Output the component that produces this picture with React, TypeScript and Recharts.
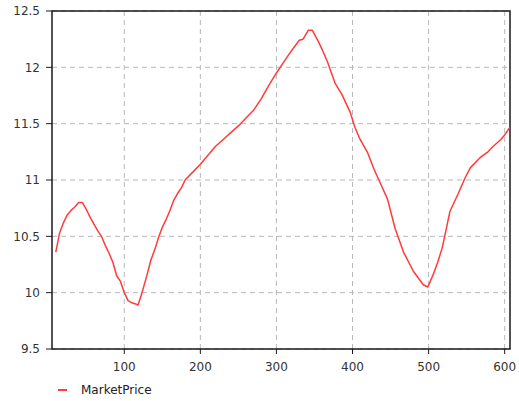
import {
  CartesianGrid,
  Legend,
  Line,
  LineChart,
  ReferenceArea,
  XAxis,
  YAxis,
} from "recharts";

// sampled market price over time
const steps = [
  10, 15, 20, 25, 30, 35, 40, 45, 50, 55, 60, 65, 70, 75, 80, 85, 90, 95, 100,
  105, 110, 115, 118, 122, 125, 130, 135, 140, 145, 150, 155, 160, 165, 170,
  175, 180, 190, 200, 210, 220, 230, 240, 250, 260, 270, 280, 290, 300, 310,
  320, 330, 335, 342, 347, 355, 360, 367, 377, 386, 397, 403, 410, 420, 428,
  436, 446, 456, 467, 480, 493, 499, 506, 512, 518, 528, 539, 548, 555, 568,
  578, 585, 595, 600, 607,
];
const prices = [
  10.36, 10.53, 10.62, 10.69, 10.73, 10.76, 10.8, 10.8, 10.74, 10.67, 10.61,
  10.55, 10.5, 10.42, 10.35, 10.27, 10.15, 10.1, 10.0, 9.93, 9.91, 9.9, 9.89,
  9.97, 10.04, 10.16, 10.29, 10.38, 10.49, 10.58, 10.65, 10.73, 10.82, 10.88,
  10.93, 11.0, 11.07, 11.14, 11.22, 11.3, 11.36, 11.42, 11.48, 11.55, 11.62,
  11.72, 11.84, 11.95, 12.05, 12.15, 12.24, 12.25, 12.33, 12.33, 12.23, 12.16,
  12.05, 11.86, 11.76, 11.6, 11.47, 11.36, 11.24, 11.1, 10.98, 10.83, 10.57,
  10.36, 10.19, 10.07, 10.05, 10.16, 10.27, 10.4, 10.72, 10.88, 11.02, 11.11,
  11.2, 11.25, 11.3, 11.36, 11.4, 11.47,
];
const xTicks = [100, 200, 300, 400, 500, 600];
const yTicks = [9.5, 10, 10.5, 11, 11.5, 12, 12.5];
const xDomain = [5, 607];
const yDomain = [9.5, 12.5];

const data = steps.map((t, i) => ({ t, price: prices[i] }));

const FONT = "'DejaVu Sans', sans-serif";
const LINE = "#ff3b3b";
const AXIS = "#1a1a1a";
const LABEL = "#333";

// tick mark + label, drawn from the axis position (tickSize/tickMargin are 0)
function YTick({ x, y, payload }: any) {
  return (
    <g>
      <line x1={x - 6} x2={x} y1={y} y2={y} stroke={AXIS} />
      <text
        x={x - 12}
        y={y}
        dy="0.36em"
        textAnchor="end"
        fill={LABEL}
        fontSize={12}
        fontFamily={FONT}
      >
        {payload.value}
      </text>
    </g>
  );
}

function XTick({ x, y, payload }: any) {
  return (
    <g>
      <line x1={x} x2={x} y1={y} y2={y + 5} stroke={AXIS} />
      <text
        x={x}
        y={y + 13}
        dy="0.71em"
        textAnchor="middle"
        fill={LABEL}
        fontSize={12}
        fontFamily={FONT}
      >
        {payload.value}
      </text>
    </g>
  );
}

function PriceLegend() {
  return (
    <div
      style={{
        height: 22,
        display: "flex",
        alignItems: "center",
        paddingLeft: 58,
        fontFamily: FONT,
        fontSize: 12,
        color: "#222",
      }}
    >
      <span style={{ width: 9, height: 1.5, background: LINE, marginRight: 14 }} />
      MarketPrice
    </div>
  );
}

export default function App() {
  return (
    <div style={{ position: "absolute", left: 0, top: 0, background: "#fff" }}>
      <LineChart
        width={519}
        height={401}
        data={data}
        margin={{ top: 11, right: 9, bottom: 0, left: 0 }}
      >
        <CartesianGrid
          stroke="#b8b8b8"
          strokeDasharray="5 4"
          verticalValues={xTicks}
          horizontalValues={yTicks}
        />
        <XAxis
          dataKey="t"
          type="number"
          domain={xDomain}
          ticks={xTicks}
          height={30}
          tickSize={0}
          tickMargin={0}
          axisLine={false}
          tickLine={false}
          tick={<XTick />}
          allowDataOverflow
        />
        <YAxis
          type="number"
          domain={yDomain}
          ticks={yTicks}
          width={52}
          tickSize={0}
          tickMargin={0}
          axisLine={false}
          tickLine={false}
          tick={<YTick />}
          allowDataOverflow
        />
        <Legend verticalAlign="bottom" height={22} content={() => <PriceLegend />} />
        <Line
          dataKey="price"
          name="MarketPrice"
          type="linear"
          stroke={LINE}
          strokeWidth={1.5}
          strokeLinejoin="round"
          dot={false}
          isAnimationActive={false}
        />
        {/* plot frame */}
        <ReferenceArea
          x1={xDomain[0]}
          x2={xDomain[1]}
          y1={yDomain[0]}
          y2={yDomain[1]}
          fill="none"
          stroke={AXIS}
          strokeWidth={1.5}
          ifOverflow="visible"
        />
      </LineChart>
    </div>
  );
}
